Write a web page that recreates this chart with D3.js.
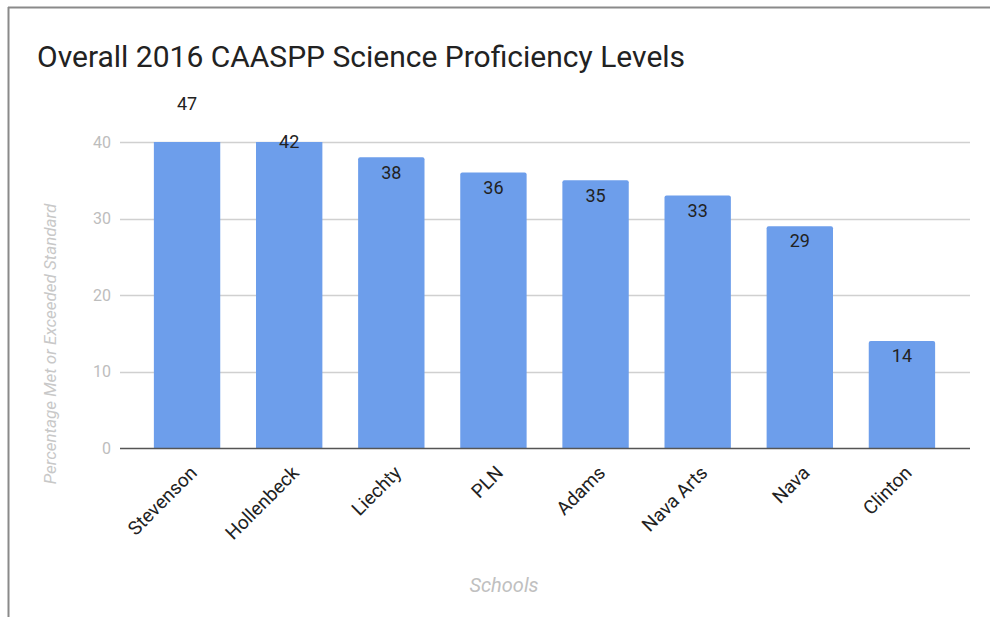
<!DOCTYPE html>
<html>
<head>
<meta charset="utf-8">
<script src="https://cdn.jsdelivr.net/npm/d3@7"></script>
<style>
  body { margin: 0; background: #fff; }
  svg { font-family: Roboto, "Noto Sans", sans-serif; }
</style>
</head>
<body>
<script>
var schools = ["Stevenson", "Hollenbeck", "Liechty", "PLN", "Adams", "Nava Arts", "Nava", "Clinton"];
var percentMet = [47, 42, 38, 36, 35, 33, 29, 14];
var yTicks = [0, 10, 20, 30, 40];

var width = 990, height = 617;

var svg = d3.select("body").append("svg")
    .attr("width", width).attr("height", height);

// frame (top and left edges only, like the screenshot)
svg.append("line").attr("x1", 8).attr("x2", width).attr("y1", 7.5).attr("y2", 7.5)
    .attr("stroke", "#8a8a8a").attr("stroke-width", 2);
svg.append("line").attr("x1", 8.5).attr("x2", 8.5).attr("y1", 7).attr("y2", height)
    .attr("stroke", "#8a8a8a").attr("stroke-width", 2);

var x = d3.scaleBand().domain(schools).range([136, 953]).paddingInner(0.35).paddingOuter(0.175);
var y = d3.scaleLinear().domain([0, 40]).range([448, 142]);

// title
svg.append("text")
    .attr("x", 37).attr("y", 67)
    .attr("font-size", 30).attr("fill", "#222")
    .text("Overall 2016 CAASPP Science Proficiency Levels");

// gridlines
svg.append("g").selectAll("line")
    .data(yTicks.slice(1))
    .enter().append("line")
      .attr("x1", 120).attr("x2", 970)
      .attr("y1", function(d){ return Math.round(y(d)) + 0.5; })
      .attr("y2", function(d){ return Math.round(y(d)) + 0.5; })
      .attr("stroke", "#d0d0d0").attr("stroke-width", 1.5);

// y tick labels
svg.append("g").selectAll("text")
    .data(yTicks)
    .enter().append("text")
      .attr("x", 111).attr("y", function(d){ return y(d); })
      .attr("dy", "0.35em").attr("text-anchor", "end")
      .attr("font-size", 16).attr("fill", "#bdbdbd")
      .text(function(d){ return d; });

// bars, clipped at the axis maximum
svg.append("clipPath").attr("id", "plotClip")
  .append("rect").attr("x", 120).attr("y", y(40)).attr("width", 850).attr("height", y(0) - y(40));

svg.append("g").attr("clip-path", "url(#plotClip)")
  .selectAll("path")
    .data(schools)
    .enter().append("path")
      .attr("fill", "#6d9eeb")
      .attr("d", function(d, i){
        var x0 = x(d), w = x.bandwidth(), top = y(percentMet[i]), bot = y(0), r = 2;
        return "M" + x0 + "," + bot + "V" + (top + r) + "Q" + x0 + "," + top + " " + (x0 + r) + "," + top +
               "H" + (x0 + w - r) + "Q" + (x0 + w) + "," + top + " " + (x0 + w) + "," + (top + r) + "V" + bot + "Z";
      });

// baseline
svg.append("line").attr("x1", 120).attr("x2", 970)
    .attr("y1", y(0) + 0.5).attr("y2", y(0) + 0.5)
    .attr("stroke", "#555").attr("stroke-width", 1.5);

// value labels
svg.append("g").selectAll("text")
    .data(schools)
    .enter().append("text")
      .attr("x", function(d){ return x(d) + x.bandwidth() / 2; })
      .attr("y", function(d, i){ return y(percentMet[i]) + 15; })
      .attr("dy", "0.35em").attr("text-anchor", "middle")
      .attr("font-size", 18).attr("fill", "#222")
      .text(function(d, i){ return percentMet[i]; });

// x category labels
svg.append("g").selectAll("text")
    .data(schools)
    .enter().append("text")
      .attr("transform", function(d){
        return "translate(" + (x(d) + x.bandwidth() / 2 + 11) + ",474) rotate(-45)";
      })
      .attr("text-anchor", "end")
      .attr("font-size", 19).attr("fill", "#222")
      .text(function(d){ return d; });

// axis titles
svg.append("text")
    .attr("x", 504).attr("y", 592)
    .attr("text-anchor", "middle")
    .attr("font-size", 20).attr("font-style", "italic").attr("fill", "#c0c0c0")
    .text("Schools");

svg.append("text")
    .attr("transform", "translate(56,344) rotate(-90)")
    .attr("text-anchor", "middle")
    .attr("font-size", 17).attr("font-style", "italic").attr("fill", "#c8c8c8")
    .text("Percentage Met or Exceeded Standard");
</script>
</body>
</html>
